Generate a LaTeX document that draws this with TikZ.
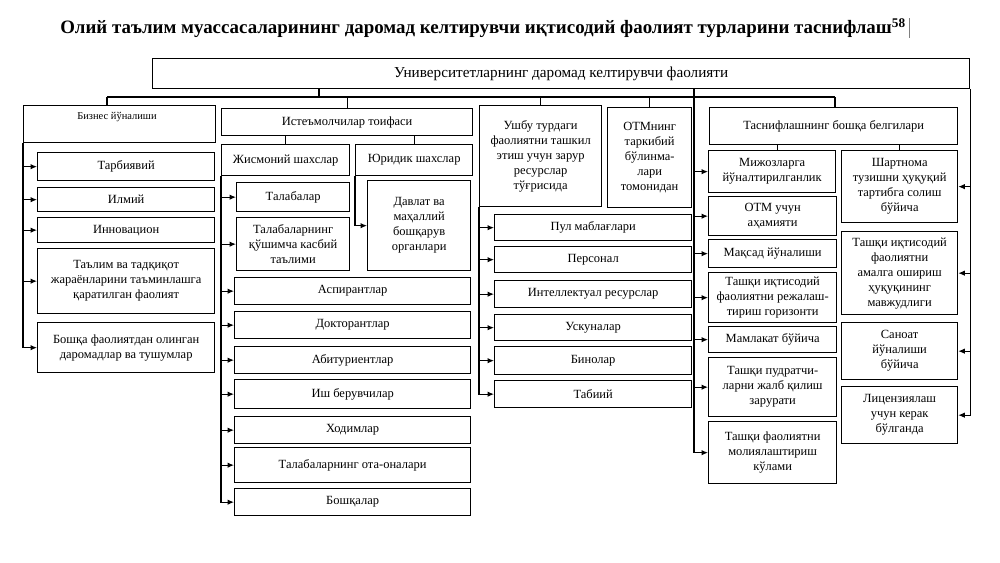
\documentclass[tikz,border=0pt]{standalone}
\usepackage{fontspec}
\setmainfont{Liberation Serif}
\usetikzlibrary{arrows.meta}
\tikzset{
  bx/.style={draw, line width=1.3pt, align=center, inner sep=1pt, font=\fontsize{12.5}{15}\selectfont},
  big/.style={font=\fontsize{15.2}{17}\selectfont},
  arr/.style={-{Latex[length=6.5pt,width=5.5pt]}, line width=1.1pt},
  ln/.style={line width=1.1pt},
}
\newcommand\nb[7][]{\node[bx,#1,minimum width={(#5-#3)*1pt},minimum height={(#6-#4)*1pt},anchor=north west] (#2) at (#3,#4) {#7};}
\begin{document}
\begin{tikzpicture}[x=1pt,y=-1pt]
\useasboundingbox (0,0) rectangle (1000,562);
\fill[white] (0,0) rectangle (1000,562);
% title
\node[font=\bfseries\fontsize{18.9}{22}\selectfont, inner sep=0pt] (title) at (483,28) {Олий таълим муассасаларининг даромад келтирувчи иқтисодий фаолият турларини таснифлаш\textsuperscript{58}};
\draw[line width=0.6pt, gray] (909,18) -- (909,38);
% top
\nb[big]{top}{152}{58}{969}{88}{Университетларнинг даромад келтирувчи фаолияти}
% column 1
\nb{biz}{23}{105}{215}{142}{}
\node[font=\fontsize{10.5}{12}\selectfont, inner sep=0pt] (biztxt) at (117,117) {Бизнес йўналиши};
\nb{tarb}{37}{152}{214}{180}{Тарбиявий}
\nb{ilm}{37}{187}{214}{211}{Илмий}
\nb{inn}{37}{217}{214}{242}{Инновацион}
\nb{tal}{37}{248}{214}{313}{Таълим ва тадқиқот\\жараёнларини таъминлашга\\қаратилган фаолият}
\nb{bos}{37}{322}{214}{372}{Бошқа фаолиятдан олинган\\даромадлар ва тушумлар}
% column 2
\nb{ist}{221}{108}{472}{135}{Истеъмолчилар тоифаси}
\nb{jism}{221}{144}{349}{175}{Жисмоний шахслар}
\nb{jur}{355}{144}{472}{175}{Юридик шахслар}
\nb{talab}{236}{182}{349}{211}{Талабалар}
\nb{qush}{236}{217}{349}{270}{Талабаларнинг\\қўшимча касбий\\таълими}
\nb{davl}{367}{180}{470}{270}{Давлат ва\\маҳаллий\\бошқарув\\органлари}
\nb{asp}{234}{277}{470}{304}{Аспирантлар}
\nb{dok}{234}{311}{470}{338}{Докторантлар}
\nb{abit}{234}{346}{470}{373}{Абитуриентлар}
\nb{ish}{234}{379}{470}{408}{Иш берувчилар}
\nb{xod}{234}{416}{470}{443}{Ходимлар}
\nb{ota}{234}{447}{470}{482}{Талабаларнинг ота-оналари}
\nb{boshq}{234}{488}{470}{515}{Бошқалар}
% column 3
\nb{ushbu}{479}{105}{601}{206}{Ушбу турдаги\\фаолиятни ташкил\\этиш учун зарур\\ресурслар\\тўғрисида}
\nb{otm}{607}{107}{691}{207}{ОТМнинг\\таркибий\\бўлинма-\\лари\\томонидан}
\nb{pul}{494}{214}{691}{240}{Пул маблағлари}
\nb{pers}{494}{246}{691}{272}{Персонал}
\nb{int}{494}{280}{691}{307}{Интеллектуал ресурслар}
\nb{usk}{494}{314}{691}{340}{Ускуналар}
\nb{bin}{494}{346}{691}{374}{Бинолар}
\nb{tab}{494}{380}{691}{407}{Табиий}
% column 4
\nb{tasn}{709}{107}{957}{144}{Таснифлашнинг бошқа белгилари}
\nb{mij}{708}{150}{835}{192}{Мижозларга\\йўналтирилганлик}
\nb{otmu}{708}{196}{836}{235}{ОТМ учун\\аҳамияти}
\nb{maq}{708}{239}{836}{267}{Мақсад йўналиши}
\nb{tashq}{708}{272}{836}{322}{Ташқи иқтисодий\\фаолиятни режалаш-\\тириш горизонти}
\nb{maml}{708}{326}{836}{352}{Мамлакат бўйича}
\nb{pudr}{708}{357}{836}{416}{Ташқи пудратчи-\\ларни жалб қилиш\\зарурати}
\nb{moliya}{708}{421}{836}{483}{Ташқи фаолиятни\\молиялаштириш\\кўлами}
\nb{shart}{841}{150}{957}{222}{Шартнома\\тузишни ҳуқуқий\\тартибга солиш\\бўйича}
\nb{huq}{841}{231}{957}{314}{Ташқи иқтисодий\\фаолиятни\\амалга ошириш\\ҳуқуқининг\\мавжудлиги}
\nb{san}{841}{322}{957}{379}{Саноат\\йўналиши\\бўйича}
\nb{lits}{841}{386}{957}{443}{Лицензиялаш\\учун керак\\бўлганда}
% bus
\coordinate (busL) at (107,97);
\coordinate (busM) at (319,97);
\coordinate (busR) at (835,97);
\coordinate (c4) at (694,88);
\draw[ln] (busL) -- (busR);
\draw[ln] (top.south -| busM) -- (busM);
\draw[ln] (busL) -- (busL |- biz.north);
\draw[ln] (ist.north |- busL) -- (ist.north);
\draw[ln] (ushbu.north |- busL) -- (ushbu.north);
\draw[ln] (otm.north |- busL) -- (otm.north);
\draw[ln] (busR) -- (busR |- tasn.north);
\draw[ln] (jism.north |- ist.south) -- (jism.north);
\draw[ln] (jur.north |- ist.south) -- (jur.north);
\draw[ln] ([xshift=5pt]mij.north |- tasn.south) -- ([xshift=5pt]mij.north);
\draw[ln] (shart.north |- tasn.south) -- (shart.north);
% arrows col 1
\foreach \t in {tarb,ilm,inn,tal,bos} \draw[arr] (biz.south west) |- (\t.west);
% arrows col 2
\foreach \t in {talab,qush,asp,dok,abit,ish,xod,ota,boshq} \draw[arr] (jism.south west) |- (\t.west);
\draw[arr] (jur.south west) |- (davl.west);
% arrows col 3
\foreach \t in {pul,pers,int,usk,bin,tab} \draw[arr] (ushbu.south west) |- (\t.west);
% arrows col 4
\foreach \t in {mij,otmu,maq,tashq,maml,pudr,moliya} \draw[arr] (c4) |- (\t.west);
\foreach \t in {shart,huq,san,lits} \draw[arr] (top.south east) |- (\t.east);
\end{tikzpicture}
\end{document}
